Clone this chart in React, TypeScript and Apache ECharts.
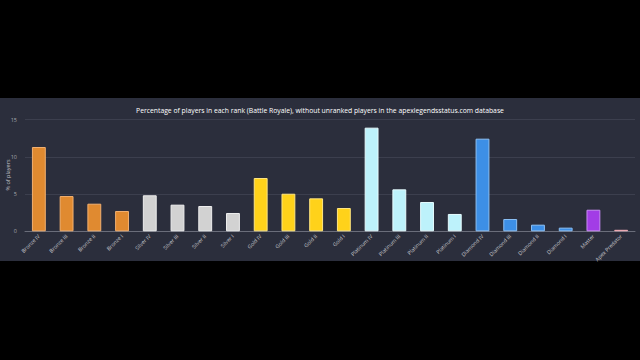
import React, { useEffect, useRef } from "react";
import * as echarts from "echarts";

const categories = [
  "Bronze IV", "Bronze III", "Bronze II", "Bronze I",
  "Silver IV", "Silver III", "Silver II", "Silver I",
  "Gold IV", "Gold III", "Gold II", "Gold I",
  "Platinum IV", "Platinum III", "Platinum II", "Platinum I",
  "Diamond IV", "Diamond III", "Diamond II", "Diamond I",
  "Master", "Apex Predator",
];
const values = [
  11.33, 4.74, 3.71, 2.73,
  4.84, 3.58, 3.4, 2.46,
  7.16, 5.05, 4.43, 3.13,
  13.93, 5.64, 3.94, 2.33,
  12.45, 1.65, 0.89, 0.49,
  2.9, 0.2,
];
const tierColors = [
  "#e08a30", "#e08a30", "#e08a30", "#e08a30",
  "#d2d2d2", "#d2d2d2", "#d2d2d2", "#d2d2d2",
  "#ffd21a", "#ffd21a", "#ffd21a", "#ffd21a",
  "#bdf2fb", "#bdf2fb", "#bdf2fb", "#bdf2fb",
  "#3d8fe6", "#3d8fe6", "#3d8fe6", "#3d8fe6",
  "#a23de6", "#e0606a",
];
const borderColors = [
  "#f2b070", "#f2b070", "#f2b070", "#f2b070",
  "#eeeeee", "#eeeeee", "#eeeeee", "#eeeeee",
  "#ffe680", "#ffe680", "#ffe680", "#ffe680",
  "#e6fcff", "#e6fcff", "#e6fcff", "#e6fcff",
  "#8cc0f5", "#8cc0f5", "#8cc0f5", "#8cc0f5",
  "#c98cf5", "#f2b0b8",
];
const titleText =
  "Percentage of players in each rank (Battle Royale), without unranked players in the apexlegendsstatus.com database";
const yAxisName = "% of players";
const yTicks = [0, 5, 10, 15];

export default function App() {
  const ref = useRef<HTMLDivElement>(null);
  useEffect(() => {
    if (!ref.current) return;
    const chart = echarts.init(ref.current, null, { renderer: "svg" });
    chart.setOption({
      animation: false,
      backgroundColor: "#000000",
      textStyle: { fontFamily: "Open Sans, Noto Sans, sans-serif" },
      graphic: [
        {
          type: "rect",
          silent: true,
          z: -10,
          shape: { x: 0, y: 98, width: 640, height: 163 },
          style: { fill: "#2b2e3c" },
        },
        {
          type: "text",
          silent: true,
          x: 8,
          y: 175,
          rotation: Math.PI / 2,
          style: {
            text: yAxisName,
            fill: "#c8c8cc",
            fontSize: 5.5,
            fontFamily: "Open Sans, Noto Sans, sans-serif",
            align: "center",
            verticalAlign: "middle",
          },
        },
      ],
      title: {
        text: titleText,
        left: "center",
        top: 102,
        textStyle: { color: "#ffffff", fontSize: 6.8, fontWeight: "normal" },
      },
      grid: {
        left: 25,
        right: 5,
        top: 119.7,
        bottom: 128.7,
        containLabel: false,
        outerBoundsMode: "none",
      },
      xAxis: {
        type: "category",
        data: categories,
        axisLine: { show: true, lineStyle: { color: "#6a6d7a", width: 1 } },
        axisTick: { show: false },
        axisLabel: {
          rotate: 45,
          color: "#c8c8cc",
          fontSize: 5.3,
          interval: 0,
          margin: 4,
        },
      },
      yAxis: {
        type: "value",
        min: 0,
        max: yTicks[yTicks.length - 1],
        interval: 5,
        axisLine: { show: false },
        axisTick: { show: false },
        axisLabel: { color: "#a8a8b0", fontSize: 5.5, margin: 8 },
        splitLine: { lineStyle: { color: "#3c3f4e", width: 1 } },
      },
      series: [
        {
          type: "bar",
          barWidth: "50%",
          data: values.map((v, i) => ({
            value: v,
            itemStyle: {
              color: tierColors[i],
              borderColor: borderColors[i],
              borderWidth: 1,
            },
          })),
        },
      ],
    });
    return () => chart.dispose();
  }, []);
  return (
    <div style={{ position: "fixed", left: 0, top: 0, width: 640, height: 360, background: "#000" }}>
      <div ref={ref} style={{ width: 640, height: 360 }} />
    </div>
  );
}
